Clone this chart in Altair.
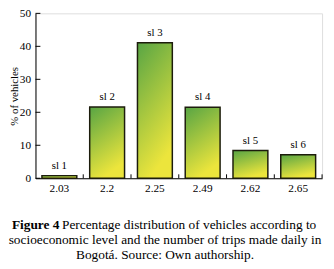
import altair as alt
import pandas as pd

categories = ["2.03", "2.2", "2.25", "2.49", "2.62", "2.65"]
labels = ["sl 1", "sl 2", "sl 3", "sl 4", "sl 5", "sl 6"]
values = [0.8, 21.6, 41.1, 21.5, 8.4, 7.1]
y_ticks = [0, 10, 20, 30, 40, 50]

df = pd.DataFrame({"cat": categories, "label": labels, "value": values})
df_ticks = pd.DataFrame({"t": y_ticks})

SERIF = "Liberation Serif, Times New Roman, serif"
W, H = 292, 168
PL = 28
PT = 3

xscale = alt.Scale(domain=categories, paddingInner=0, paddingOuter=0)
yscale = alt.Scale(domain=[0, 50], nice=False)

XAX = alt.Axis(title="Number of trips/persona according to sl", labelAngle=0,
               ticks=False, domain=True, domainColor="#000", domainWidth=1,
               labelFont=SERIF, labelFontSize=11.5, labelColor="#000", labelPadding=4,
               titleFont=SERIF, titleFontSize=10.2, titleFontWeight="normal",
               titleColor="#000", titleX=W / 2, titleY=H + 24,
               titleBaseline="middle", titleAlign="center")
YAX = alt.Axis(title="% of vehicles", values=y_ticks, ticks=False, grid=False,
               labelOverlap=False,
               domain=True, domainColor="#000", domainWidth=1,
               labelFont=SERIF, labelFontSize=11.5, labelColor="#000", labelPadding=5,
               titleFont=SERIF, titleFontSize=11, titleFontWeight="normal",
               titleColor="#000", titleX=-(PL - 6.5), titleY=H / 2, titleAngle=270,
               titleBaseline="middle", titleAlign="center")

gradient = {
    "gradient": "linear", "x1": 0, "y1": 0, "x2": 0.35, "y2": 1,
    "stops": [{"offset": 0, "color": "#58a544"}, {"offset": 1, "color": "#ece53c"}],
}

base = alt.Chart(df)

bars = base.mark_bar(color=gradient, stroke="#1c1c0c", strokeWidth=1.5,
                     width=alt.RelativeBandSize(0.73)).encode(
    x=alt.X("cat:N", scale=xscale, sort=categories, axis=XAX),
    y=alt.Y("value:Q", scale=yscale, axis=YAX),
)

text = base.mark_text(dy=-10, font=SERIF, fontSize=11, color="#000").encode(
    x=alt.X("cat:N", scale=xscale, sort=categories, axis=XAX),
    y=alt.Y("value:Q", scale=yscale, axis=YAX),
    text="label:N",
)

yticks = alt.Chart(df_ticks).mark_rule(color="#000", strokeWidth=1).encode(
    y=alt.Y("t:Q", scale=yscale, axis=YAX), x=alt.value(0), x2=alt.value(5)
)

xticks = base.mark_rule(color="#000", strokeWidth=1).encode(
    x=alt.X("cat:N", scale=xscale, sort=categories, bandPosition=1, axis=XAX),
    y=alt.value(H), y2=alt.value(H - 4),
)

cap_lines = [
    "Percentage distribution of vehicles according to",
    "socioeconomic level and the number of trips made daily in",
    "Bogotá. Source: Own authorship.",
]
FS = 13.6
cap1 = alt.Chart(pd.DataFrame({"t": ["Figure 4"]})).mark_text(
    font=SERIF, fontSize=FS, fontWeight="bold", color="#000", align="left", baseline="middle"
).encode(x=alt.value(12 - 8 - PL), y=alt.value(227 - 8 - PT), text="t:N")

cap_l1 = alt.Chart(pd.DataFrame({"t": [cap_lines[0]]})).mark_text(
    font=SERIF, fontSize=FS, color="#000", align="left", baseline="middle"
).encode(x=alt.value(63 - 8 - PL), y=alt.value(227 - 8 - PT), text="t:N")

cap_rest = alt.Chart(pd.DataFrame({"t": cap_lines[1:], "yy": [242 - 8 - PT, 257 - 8 - PT]})).mark_text(
    font=SERIF, fontSize=FS, color="#000", align="center", baseline="middle"
).encode(x=alt.value(168 - 8 - PL), y=alt.Y("yy:Q", scale=None, axis=None), text="t:N")

chart = alt.layer(bars, text, yticks, xticks, cap1, cap_l1, cap_rest).properties(
    width=W, height=H,
    autosize=alt.AutoSizeParams(type="none"),
    padding={"left": PL, "top": PT, "right": 4, "bottom": 90},
).configure_view(stroke=None).configure(background="#ffffff")

chart.save("out.html", embed_options={"renderer": "svg", "actions": False})
